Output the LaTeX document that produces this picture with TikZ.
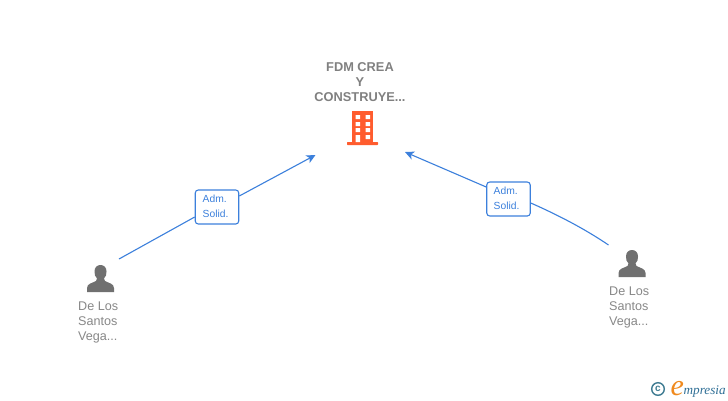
\documentclass[tikz,border=0pt]{standalone}
\usepackage{fontspec}
\usetikzlibrary{arrows.meta}
\setmainfont{Liberation Sans}
\newfontfamily\logofont{Liberation Serif}
\definecolor{linkblue}{HTML}{3C80DC}
\definecolor{greytext}{HTML}{888888}
\definecolor{titlegrey}{HTML}{808080}
\definecolor{personfill}{HTML}{707070}
\definecolor{buildfill}{HTML}{FF5C2E}
\definecolor{logoteal}{HTML}{3F7C92}
\definecolor{logoorange}{HTML}{F08A1E}
\definecolor{logoblue}{HTML}{2F6F96}
\tikzset{
  link/.style={draw=linkblue,line width=1.1pt},
  arrowlink/.style={link,-{Stealth[length=9pt,width=8.5pt,inset=2.5pt]}},
  rolebox/.style={draw=linkblue,line width=1.1pt,rounded corners=3pt,fill=white,minimum width=43.5pt,minimum height=34pt,inner sep=0pt,text=linkblue},
  roletext/.style={align=left,inner sep=0pt,text=linkblue,font=\fontsize{10.3}{15}\selectfont},
  personlabel/.style={align=left,text=greytext,inner sep=0pt,font=\fontsize{12.6}{15.3}\selectfont},
  titlelabel/.style={align=center,text=titlegrey,inner sep=0pt,font=\fontsize{12.8}{15.3}\selectfont\bfseries},
  person/.pic={
    \fill[personfill] (-13.5,13.5) -- (-13.5,9.5) .. controls (-13.5,5) and (-8,4.5) .. (-4.5,2.5)
      -- (-3.5,0) .. controls (-5.5,-2) and (-6,-4) .. (-6,-7)
      .. controls (-6,-11) and (-3.5,-13.5) .. (0,-13.5)
      .. controls (3.5,-13.5) and (6,-11) .. (6,-7)
      .. controls (6,-4) and (5.5,-2) .. (3.5,0)
      -- (4.5,2.5) .. controls (8,4.5) and (13.5,5) .. (13.5,9.5) -- (13.5,13.5) -- cycle;
  },
  building/.pic={
    \fill[buildfill] (-10.5,-17) rectangle (10.5,15);
    \fill[buildfill,rounded corners=0.6pt] (-15.5,14) rectangle (15.5,17);
    \fill[white] \foreach \yy in {-13,-6,0} { (-7,\yy) rectangle (-2.5,\yy+4) (3,\yy) rectangle (7.5,\yy+4) }
      (-7,7) rectangle (-2.5,14) (3,7) rectangle (7.5,11);
  }
}
\begin{document}
\begin{tikzpicture}[x=1pt,y=-1pt]
\useasboundingbox[fill=white] (0,0) rectangle (728,400);
% building
\node[titlelabel] (title) at (360,82.2) {FDM CREA\\Y\\CONSTRUYE...};
\coordinate (bld) at (362.5,128);
\pic at (bld) {building};
% persons
\coordinate (pl) at (100.5,278.5);
\coordinate (pr) at (632,263.5);
\pic at (pl) {person};
\pic at (pr) {person};
\node[personlabel,anchor=north west] (ltext) at (78,301.3) {De Los\\Santos\\Vega...};
\node[personlabel,anchor=north west] (rtext) at (609,286.3) {De Los\\Santos\\Vega...};
% connectors
\coordinate (lstart) at (119,259);
\coordinate (ltip) at (315.5,155);
\coordinate (rstart) at (608.5,245);
\coordinate (rtip) at (405,152);
\node[rolebox] (lbox) at (217,207) {};
\node[rolebox] (rbox) at (508.5,199) {};
\node[roletext,anchor=north west] (ltxt) at (202.5,195) {Adm.\\Solid.};
\node[roletext,anchor=north west] (rtxt) at (493.5,187) {Adm.\\Solid.};
\draw[link] (lstart) -- (lbox.west |- 0,217);
\draw[arrowlink] (lbox.east |- 0,196) -- (ltip);
\draw[link] (rstart) .. controls (585,229) and (558,215) .. (rbox.east |- 0,203);
\draw[arrowlink] (rbox.west |- 0,187) -- (rtip);
% logo
\draw[logoteal,line width=1.4pt] (658,389) circle (6.3);
\node[inner sep=0pt,text=logoteal,font=\bfseries\fontsize{10}{10}\selectfont] (copy) at (658,388.7) {c};
\node[inner sep=0pt,anchor=base west,text=logoorange,font=\logofont\itshape\fontsize{30}{30}\selectfont] (elogo) at (670.5,395) {e};
\node[inner sep=0pt,anchor=base west,text=logoblue,font=\logofont\itshape\fontsize{13.2}{13.2}\selectfont] (mlogo) at (683.5,394) {mpresia};
\end{tikzpicture}
\end{document}
